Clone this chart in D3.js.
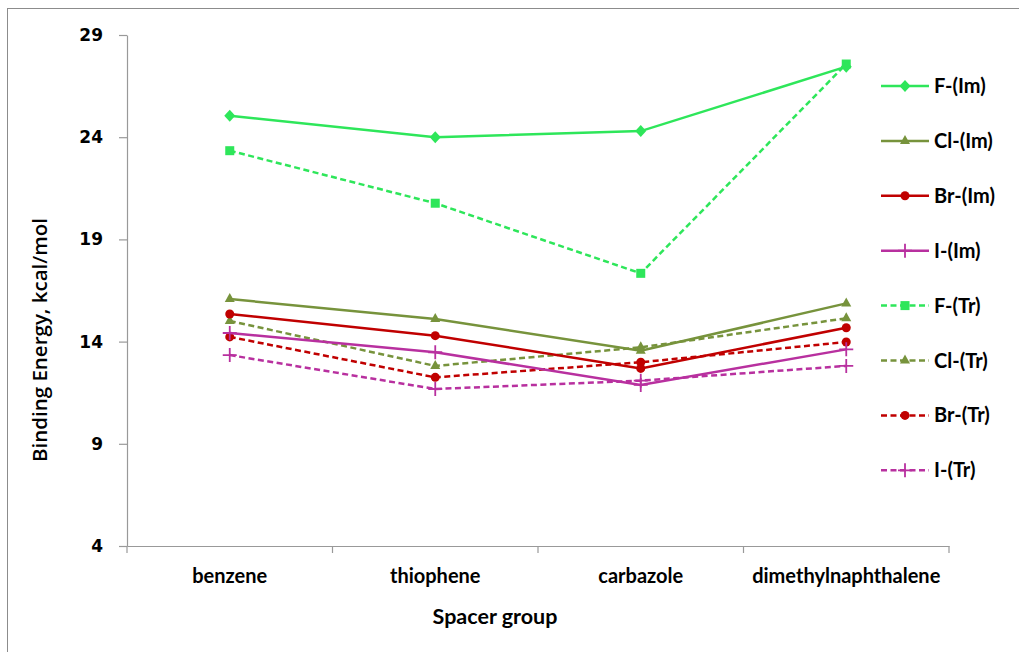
<!DOCTYPE html>
<html><head><meta charset="utf-8">
<script src="https://cdn.jsdelivr.net/npm/d3@7"></script>
<style>body{margin:0;background:#fff}svg{display:block}</style>
</head><body><svg id="c" width="1019" height="652"></svg>
<script>
const categories = ["benzene","thiophene","carbazole","dimethylnaphthalene"];
const yTicks = [4,9,14,19,24,29];
const seriesNames = ["F-(Im)","Cl-(Im)","Br-(Im)","I-(Im)","F-(Tr)","Cl-(Tr)","Br-(Tr)","I-(Tr)"];
const fIm  = [25.05, 24.0, 24.3, 27.45];
const clIm = [16.08, 15.11, 13.55, 15.87];
const brIm = [15.35, 14.29, 12.69, 14.68];
const iIm  = [14.42, 13.48, 11.88, 13.62];
const fTr  = [23.34, 20.77, 17.34, 27.58];
const clTr = [15.01, 12.81, 13.72, 15.14];
const brTr = [14.23, 12.25, 12.99, 13.98];
const iTr  = [13.34, 11.68, 12.09, 12.81];
const seriesValues = [fIm, clIm, brIm, iIm, fTr, clTr, brTr, iTr];
const colors = ["#2EE65A","#77933C","#C00000","#B8309F","#2EE65A","#77933C","#C00000","#B8309F"];
const markers = ["diamond","triangle","circle","cross","square","triangle","circle","cross"];
const dashed = [false,false,false,false,true,true,true,true];

const svg = d3.select("#c");
const font = "Lato, 'Open Sans', sans-serif";
svg.append("rect").attr("x",7.5).attr("y",8.5).attr("width",1100).attr("height",700)
  .attr("fill","none").attr("stroke","#8c8c8c").attr("stroke-width",1);

const x0 = 127, x1 = 949, yTop = 35, yBot = 546;
const x = d3.scaleBand().domain(categories).range([x0,x1]);
const y = d3.scaleLinear().domain([4,29]).range([yBot,yTop]);

const yAxis = svg.append("g").attr("transform",`translate(${x0},0)`)
  .call(d3.axisLeft(y).tickValues(yTicks).tickSize(8).tickSizeOuter(0).tickPadding(16).tickFormat(d3.format("d")));
yAxis.select(".domain").attr("stroke","#999").attr("stroke-width",1.2);
yAxis.selectAll(".tick line").attr("stroke","#999").attr("stroke-width",1.2);
yAxis.selectAll("text").attr("font-family","'DejaVu Sans', Verdana, sans-serif").attr("font-weight","bold")
  .attr("font-size",17).attr("fill","#000");

const xAxis = svg.append("g").attr("transform",`translate(0,${yBot})`)
  .call(d3.axisBottom(x).tickSize(0).tickPadding(23));
xAxis.select(".domain").attr("stroke","#999").attr("stroke-width",1.2);
xAxis.selectAll("text").attr("font-family",font).attr("font-weight","bold").attr("font-size",20).attr("fill","#000");
const bounds = categories.map(c => x(c)).concat([x1]);
svg.append("g").selectAll("line").data(bounds).join("line")
  .attr("x1",d=>d).attr("x2",d=>d).attr("y1",yBot).attr("y2",yBot+7)
  .attr("stroke","#999").attr("stroke-width",1.2);

svg.append("text").attr("transform",`translate(47,340) rotate(-90)`)
  .attr("text-anchor","middle").attr("font-family","'Open Sans', Lato, sans-serif").attr("font-weight",600).attr("font-size",20.5)
  .text("Binding Energy, kcal/mol");
svg.append("text").attr("x",495).attr("y",624).attr("text-anchor","middle")
  .attr("font-family",font).attr("font-weight","bold").attr("font-size",21.5).text("Spacer group");

const cx = c => x(c) + x.bandwidth()/2;
function drawMarker(g, type, color, px, py){
  if(type==="diamond"){
    g.append("path").attr("d",`M${px},${py-6}L${px+5.5},${py}L${px},${py+6}L${px-5.5},${py}Z`).attr("fill",color);
  } else if(type==="triangle"){
    g.append("path").attr("d",`M${px},${py-6}L${px+5},${py+3}L${px-5},${py+3}Z`).attr("fill",color);
  } else if(type==="circle"){
    g.append("circle").attr("cx",px).attr("cy",py).attr("r",4.5).attr("fill",color);
  } else if(type==="square"){
    g.append("rect").attr("x",px-4.5).attr("y",py-4.5).attr("width",9).attr("height",9).attr("fill",color);
  } else if(type==="cross"){
    g.append("path").attr("d",`M${px-7},${py}H${px+7}M${px},${py-7}V${py+7}`)
      .attr("stroke",color).attr("stroke-width",1.8).attr("fill","none");
  }
}

const line = d3.line().x((d,i)=>cx(categories[i])).y(d=>y(d));
const order = [4,0,5,1,6,2,7,3];
order.forEach(k=>{
  const g = svg.append("g");
  g.append("path").datum(seriesValues[k]).attr("d",line).attr("fill","none")
    .attr("stroke",colors[k]).attr("stroke-width",2.5)
    .attr("stroke-dasharray",dashed[k]?"6,3.5":null);
  seriesValues[k].forEach((v,i)=>drawMarker(g, markers[k], colors[k], cx(categories[i]), y(v)));
});

const legY0 = 86, legStep = 54.9;
seriesNames.forEach((name,k)=>{
  const ly = legY0 + k*legStep;
  const g = svg.append("g");
  g.append("line").attr("x1",881).attr("x2",929).attr("y1",ly).attr("y2",ly)
    .attr("stroke",colors[k]).attr("stroke-width",2.5).attr("stroke-dasharray",dashed[k]?"6,3.5":null);
  drawMarker(g, markers[k], colors[k], 905, ly);
  g.append("text").attr("x",934).attr("y",ly).attr("dy","0.35em").attr("font-family",font)
    .attr("font-weight","bold").attr("font-size",20).attr("fill","#000").text(name);
});
</script></body></html>
